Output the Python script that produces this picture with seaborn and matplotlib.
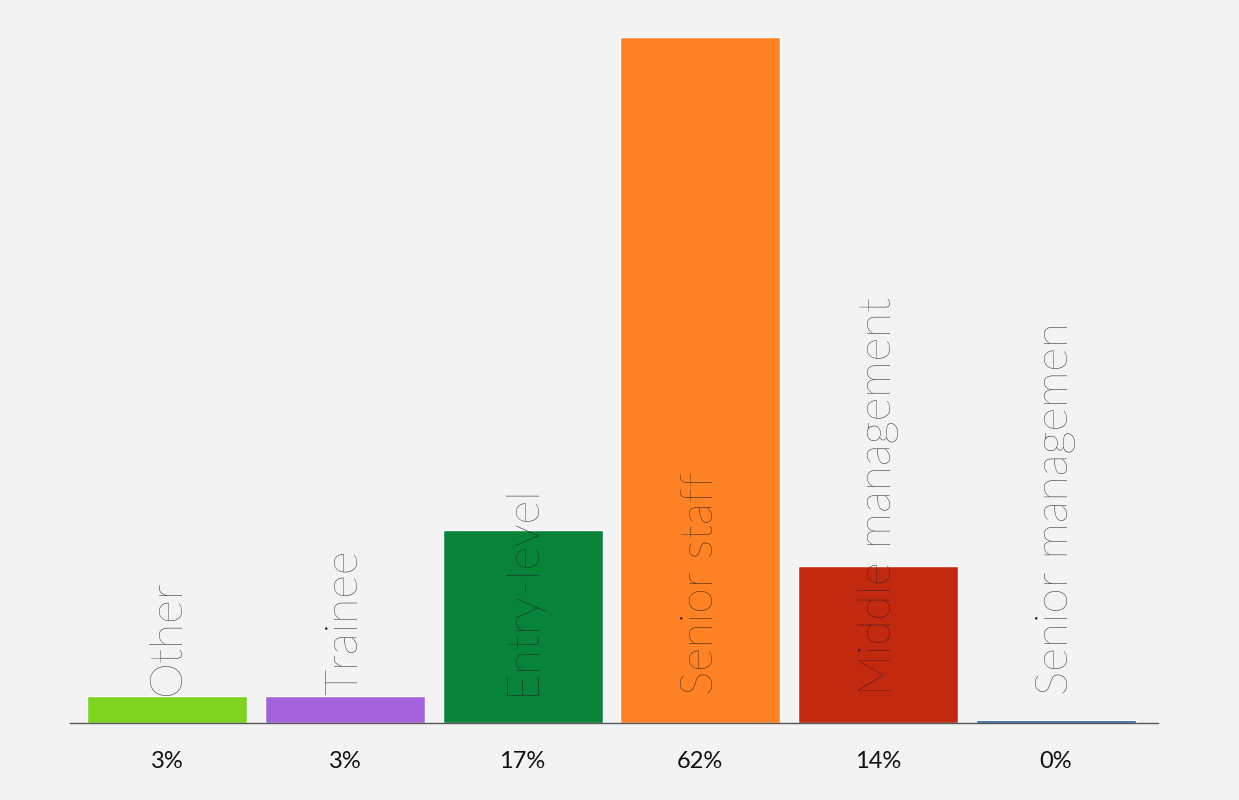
import matplotlib
matplotlib.use("Agg")
import matplotlib.pyplot as plt
import seaborn as sns
import pandas as pd

categories = ["Other", "Trainee", "Entry-level", "Senior staff", "Middle management", "Senior managemen"]
values = [2.4, 2.4, 17.4, 62.0, 14.2, 0.25]
pct_labels = ["3%", "3%", "17%", "62%", "14%", "0%"]
colors = ["#7ed321", "#a463dd", "#08843a", "#ff8324", "#c3290f", "#1f5fa0"]

sns.set_theme(style="white")
plt.rcParams['font.family'] = ['Lato', 'DejaVu Sans']
bg = "#f3f3f3"
fig = plt.figure(figsize=(12.39, 8.0), dpi=100, facecolor=bg)
ax = fig.add_axes([70/1239, 1-723/800, 1088/1239, 686/800])
ax.set_facecolor(bg)
df = pd.DataFrame({"cat": categories, "val": values})
sns.barplot(data=df, x="cat", y="val", hue="cat", palette=colors, width=0.9,
            legend=False, ax=ax, saturation=1)
ax.set_xlim(-0.546, 5.575)
ax.set_ylim(0, 62)
ax.set_xlabel(""); ax.set_ylabel("")
ax.set_yticks([])
ax.set_xticks(range(len(categories)))
ax.set_xticklabels(pct_labels, fontsize=17, color="#111111")
ax.tick_params(axis="x", length=0, pad=20)
for s in ["top", "right", "left"]:
    ax.spines[s].set_visible(False)
ax.spines["bottom"].set_color("#555555")
ax.spines["bottom"].set_linewidth(1)
for i, c in enumerate(categories):
    ax.text(i, 2.5, c, rotation=90, ha="center", va="bottom", fontsize=33,
            fontweight="light", color="#222222")
fig.savefig("out.png", dpi=100, facecolor=bg)
